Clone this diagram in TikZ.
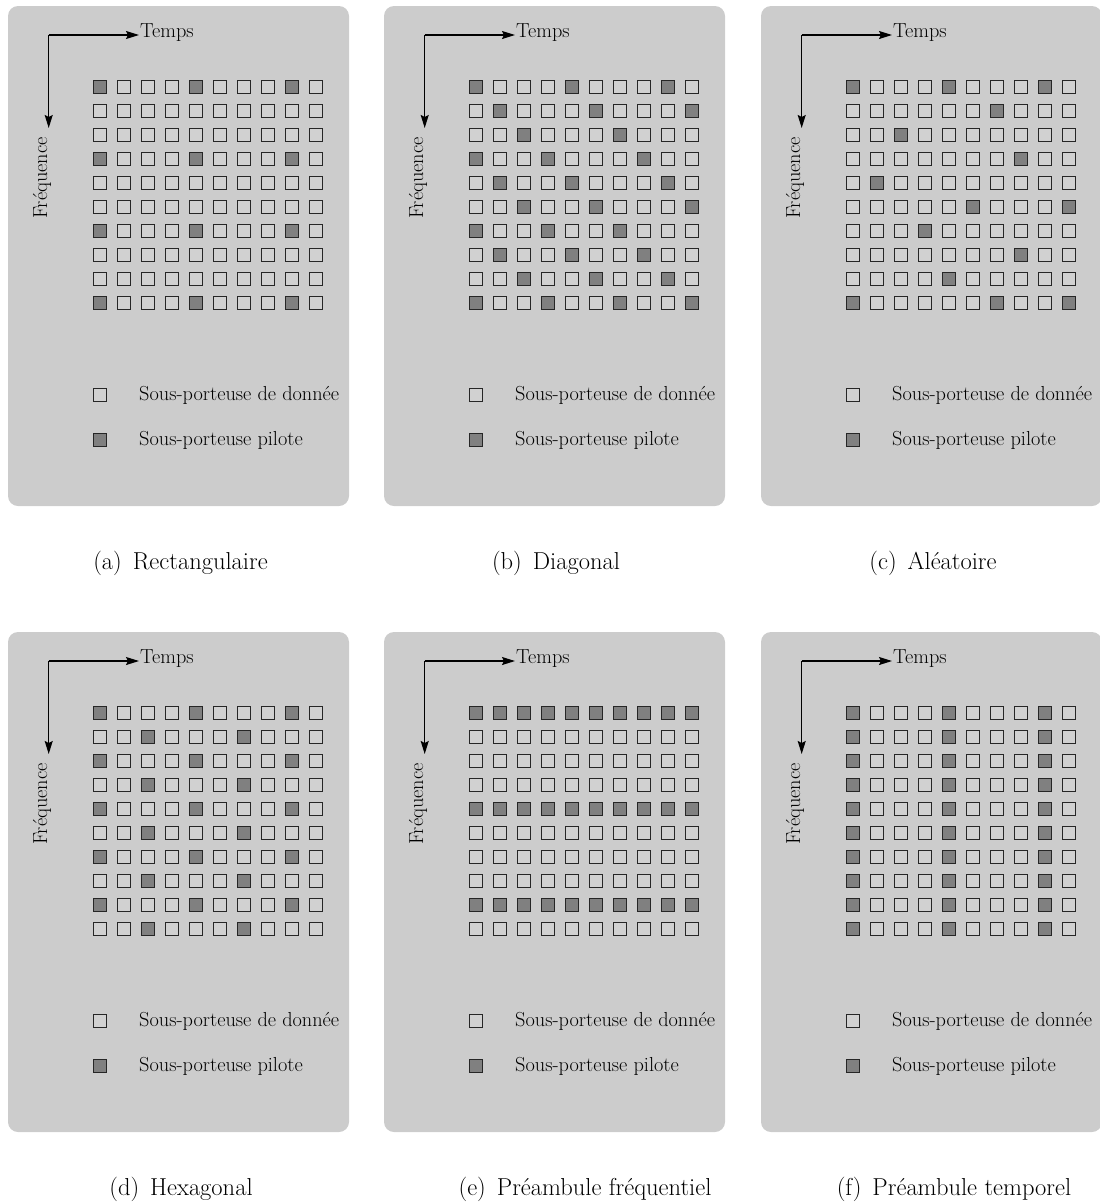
\documentclass[tikz,border=0pt]{standalone}
\usetikzlibrary{arrows.meta}
\definecolor{panelbg}{gray}{0.8}
\definecolor{pilotfill}{gray}{0.5}
\definecolor{datafill}{gray}{0.82}
\tikzset{
  panel/.style={fill=panelbg, rounded corners=10pt},
  cell/.style={draw=black!85, line width=1.2pt, fill=datafill},
  pilotcell/.style={draw=black!85, line width=1.2pt, fill=pilotfill},
  axisarrow/.style={line width=1.2pt, -{Stealth[length=13pt,width=8pt,inset=2pt]}},
  lbl/.style={font=\fontsize{20.3}{22}\selectfont, inner sep=0pt},
  captxt/.style={font=\fontsize{24.5}{28}\selectfont, inner sep=0pt},
}
% #1 x offset, #2 y offset, #3 name, #4 pilot list (col/row)
\newcommand\pilotpanel[4]{%
  \begin{scope}[shift={(#1,#2)}]
    \fill[panel] (0,0) rectangle (341,500);
    \foreach \c in {0,...,9}{\foreach \r in {0,...,9}{
      \draw[cell] (85.5+24*\c, 74.5+24*\r) rectangle ++(13,13);}}
    \foreach \c/\r in {#4}{
      \draw[pilotcell] (85.5+24*\c, 74.5+24*\r) rectangle ++(13,13);}
    \coordinate (#3o) at (40.7,29);
    \coordinate (#3t) at (131,29);
    \coordinate (#3f) at (40.7,122);
    \draw[axisarrow] (#3o) -- (#3t);
    \draw[axisarrow] (#3o) -- (#3f);
    \node[lbl, anchor=base west] (#3temps) at (132,31) {Temps};
    \node[lbl, rotate=90] (#3freq) at (34,172) {Fréquence};
    \draw[cell] (85.5,382.5) rectangle ++(13,13);
    \draw[pilotcell] (85.5,427.5) rectangle ++(13,13);
    \node[lbl, anchor=west] (#3leg1) at (131,389) {Sous-porteuse de donnée};
    \node[lbl, anchor=west] (#3leg2) at (131,434) {Sous-porteuse pilote};
  \end{scope}}
\begin{document}
\begin{tikzpicture}[x=1pt,y=-1pt]
\useasboundingbox (0,0) rectangle (1100,1203);
\pilotpanel{8}{6}{a}{0/0,4/0,8/0,0/3,4/3,8/3,0/6,4/6,8/6,0/9,4/9,8/9}
\pilotpanel{384}{6}{b}{0/0,4/0,8/0,1/1,5/1,9/1,2/2,6/2,0/3,3/3,7/3,1/4,4/4,8/4,2/5,5/5,9/5,0/6,3/6,6/6,1/7,4/7,7/7,2/8,5/8,8/8,0/9,3/9,6/9,9/9}
\pilotpanel{761}{6}{c}{0/0,4/0,8/0,6/1,2/2,7/3,1/4,5/5,9/5,3/6,7/7,4/8,0/9,6/9,9/9}
\pilotpanel{8}{632}{d}{0/0,4/0,8/0,2/1,6/1,0/2,4/2,8/2,2/3,6/3,0/4,4/4,8/4,2/5,6/5,0/6,4/6,8/6,2/7,6/7,0/8,4/8,8/8,2/9,6/9}
\pilotpanel{384}{632}{e}{0/0,1/0,2/0,3/0,4/0,5/0,6/0,7/0,8/0,9/0,0/4,1/4,2/4,3/4,4/4,5/4,6/4,7/4,8/4,9/4,0/8,1/8,2/8,3/8,4/8,5/8,6/8,7/8,8/8,9/8}
\pilotpanel{761}{632}{f}{0/0,4/0,8/0,0/1,4/1,8/1,0/2,4/2,8/2,0/3,4/3,8/3,0/4,4/4,8/4,0/5,4/5,8/5,0/6,4/6,8/6,0/7,4/7,8/7,0/8,4/8,8/8,0/9,4/9,8/9}
\node[captxt] (capa) at (180.5,563) {(a)\hspace{11pt}Rectangulaire};
\node[captxt] (capb) at (556,563) {(b)\hspace{11pt}Diagonal};
\node[captxt] (capc) at (933,563) {(c)\hspace{11pt}Aléatoire};
\node[captxt] (capd) at (181,1189) {(d)\hspace{11pt}Hexagonal};
\node[captxt] (cape) at (585,1189) {(e)\hspace{11pt}Préambule fréquentiel};
\node[captxt] (capf) at (954,1189) {(f)\hspace{11pt}Préambule temporel};
\end{tikzpicture}
\end{document}
